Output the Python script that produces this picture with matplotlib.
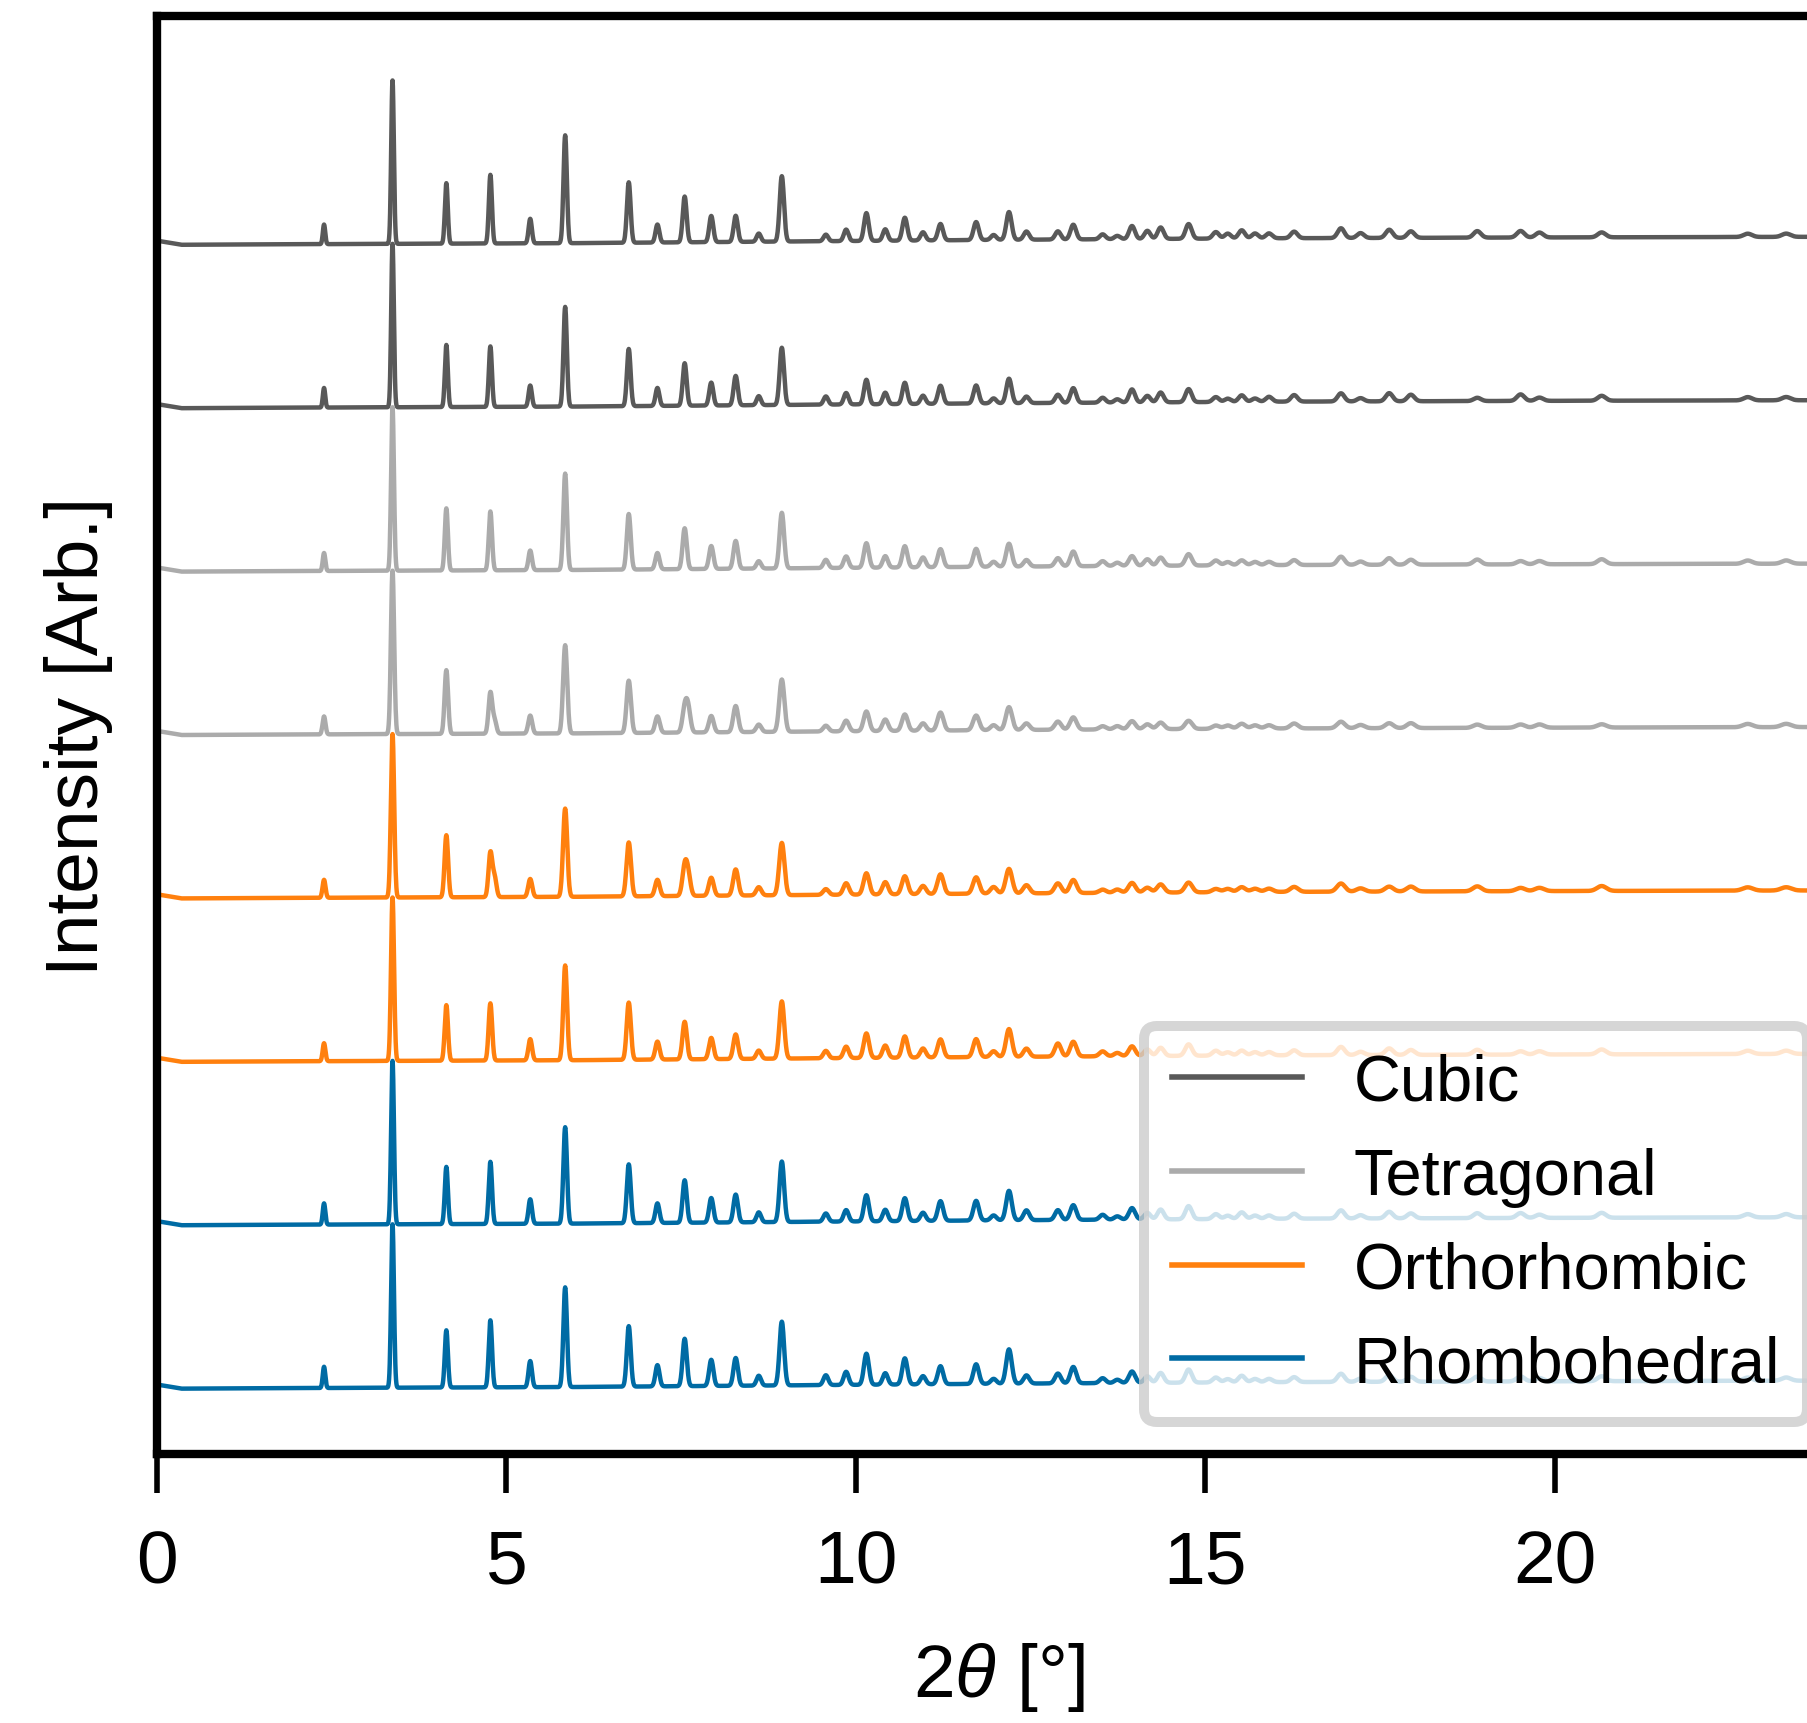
import numpy as np
import matplotlib
matplotlib.use("Agg")
import matplotlib.pyplot as plt

plt.rcParams['font.family'] = ['Liberation Sans', 'DejaVu Sans']
plt.rcParams['mathtext.fontset'] = 'custom'
plt.rcParams['mathtext.rm'] = 'Liberation Sans'
plt.rcParams['mathtext.it'] = 'Liberation Sans:italic'

# ---- data ----
labels = ["Cubic", "Cubic", "Tetragonal", "Tetragonal",
          "Orthorhombic", "Orthorhombic", "Rhombohedral", "Rhombohedral"]
colors = ["#595959", "#595959", "#ABABAB", "#ABABAB",
          "#FF800E", "#FF800E", "#006BA4", "#006BA4"]

# peak positions (2theta, degrees)
peak_pos = [2.39, 3.37, 4.14, 4.77, 4.83, 5.34, 5.84, 6.75, 7.16, 7.55, 7.60,
            7.93, 8.28, 8.61, 8.94, 9.57, 9.86, 10.15, 10.42, 10.70, 10.96,
            11.21, 11.72, 11.97, 12.19, 12.44, 12.89, 13.11,
            13.53, 13.74, 13.95, 14.17, 14.36, 14.76, 15.15, 15.32, 15.52,
            15.71, 15.91, 16.27, 16.94, 17.22, 17.63, 17.94, 18.89, 19.51,
            19.78, 20.67, 22.76, 23.31]

# relative peak heights, one list per trace (top trace first)
h_cubic_a = [0.12, 1.00, 0.37, 0.42, 0.00, 0.15, 0.66, 0.37, 0.11, 0.28, 0.00,
             0.16, 0.16, 0.05, 0.40, 0.04, 0.07, 0.17, 0.07, 0.14, 0.05,
             0.10, 0.11, 0.03, 0.17, 0.05, 0.05, 0.09,
             0.03, 0.02, 0.08, 0.05, 0.07, 0.09, 0.04, 0.03, 0.05,
             0.03, 0.03, 0.04, 0.06, 0.03, 0.05, 0.04, 0.04, 0.04,
             0.03, 0.03, 0.02, 0.02]
h_cubic_b = [0.12, 1.00, 0.38, 0.37, 0.00, 0.13, 0.61, 0.35, 0.11, 0.26, 0.00,
             0.14, 0.18, 0.055, 0.35, 0.05, 0.07, 0.15, 0.07, 0.13, 0.05,
             0.11, 0.11, 0.03, 0.15, 0.04, 0.05, 0.09,
             0.03, 0.02, 0.08, 0.04, 0.06, 0.08, 0.03, 0.02, 0.04,
             0.02, 0.03, 0.04, 0.05, 0.02, 0.05, 0.04, 0.02, 0.04,
             0.02, 0.03, 0.02, 0.02]
h_tetra_a = [0.11, 1.00, 0.38, 0.36, 0.00, 0.12, 0.59, 0.34, 0.10, 0.25, 0.00,
             0.14, 0.17, 0.045, 0.34, 0.05, 0.07, 0.15, 0.07, 0.13, 0.06,
             0.11, 0.11, 0.03, 0.14, 0.04, 0.05, 0.09,
             0.03, 0.02, 0.06, 0.04, 0.05, 0.07, 0.03, 0.02, 0.03,
             0.02, 0.02, 0.03, 0.05, 0.02, 0.04, 0.03, 0.03, 0.02,
             0.02, 0.03, 0.02, 0.02]
h_tetra_b = [0.11, 1.00, 0.39, 0.25, 0.08, 0.11, 0.54, 0.32, 0.10, 0.14, 0.14,
             0.10, 0.16, 0.045, 0.32, 0.035, 0.065, 0.12, 0.07, 0.10, 0.045,
             0.11, 0.09, 0.03, 0.14, 0.04, 0.05, 0.075,
             0.02, 0.02, 0.05, 0.03, 0.04, 0.05, 0.02, 0.02, 0.03,
             0.02, 0.02, 0.03, 0.04, 0.02, 0.03, 0.03, 0.02, 0.02,
             0.02, 0.02, 0.02, 0.02]
h_ortho_a = [0.11, 1.00, 0.38, 0.27, 0.12, 0.11, 0.54, 0.33, 0.10, 0.17, 0.12,
             0.11, 0.16, 0.05, 0.32, 0.035, 0.07, 0.13, 0.075, 0.11, 0.05,
             0.12, 0.10, 0.04, 0.15, 0.05, 0.06, 0.08,
             0.02, 0.02, 0.06, 0.03, 0.05, 0.06, 0.02, 0.02, 0.03,
             0.02, 0.02, 0.03, 0.05, 0.02, 0.03, 0.03, 0.03, 0.02,
             0.02, 0.03, 0.02, 0.02]
h_ortho_b = [0.11, 1.00, 0.34, 0.35, 0.00, 0.13, 0.58, 0.35, 0.11, 0.23, 0.00,
             0.13, 0.15, 0.05, 0.35, 0.045, 0.07, 0.15, 0.075, 0.13, 0.055,
             0.11, 0.11, 0.035, 0.17, 0.05, 0.08, 0.09,
             0.03, 0.02, 0.06, 0.04, 0.05, 0.07, 0.03, 0.02, 0.03,
             0.02, 0.02, 0.03, 0.05, 0.02, 0.04, 0.03, 0.03, 0.02,
             0.02, 0.03, 0.02, 0.02]
h_rhombo_a = [0.13, 1.00, 0.35, 0.38, 0.00, 0.15, 0.59, 0.36, 0.12, 0.26, 0.00,
              0.15, 0.17, 0.06, 0.37, 0.05, 0.07, 0.16, 0.07, 0.14, 0.05,
              0.12, 0.12, 0.03, 0.18, 0.06, 0.06, 0.09,
              0.03, 0.02, 0.07, 0.04, 0.06, 0.08, 0.03, 0.02, 0.04,
              0.02, 0.02, 0.03, 0.05, 0.02, 0.04, 0.03, 0.03, 0.03,
              0.02, 0.03, 0.02, 0.02]
h_rhombo_b = [0.13, 1.00, 0.35, 0.41, 0.00, 0.16, 0.61, 0.37, 0.13, 0.29, 0.00,
              0.16, 0.17, 0.06, 0.39, 0.06, 0.08, 0.19, 0.07, 0.16, 0.05,
              0.11, 0.12, 0.03, 0.21, 0.05, 0.06, 0.10,
              0.03, 0.02, 0.07, 0.04, 0.06, 0.08, 0.03, 0.02, 0.04,
              0.02, 0.02, 0.03, 0.05, 0.02, 0.04, 0.03, 0.03, 0.03,
              0.02, 0.03, 0.02, 0.02]
heights = [h_cubic_a, h_cubic_b, h_tetra_a, h_tetra_b,
           h_ortho_a, h_ortho_b, h_rhombo_a, h_rhombo_b]

# baseline (background)
bg_x = [0.0, 0.35, 3.0, 6.0, 9.0, 12.0, 16.0, 20.0, 25.0]
bg_y = [0.025, 0.0, 0.005, 0.01, 0.02, 0.03, 0.04, 0.045, 0.05]

# peak width (sigma) at 0 deg and its growth per degree, per trace
width0 = [0.012, 0.012, 0.013, 0.015, 0.015, 0.014, 0.013, 0.013]
width1 = [0.0021, 0.0021, 0.0022, 0.0024, 0.0025, 0.0023, 0.0022, 0.0022]
offsets = [7, 6, 5, 4, 3, 2, 1, 0]

# ---- build profiles ----
x = np.arange(0.0, 25.0, 0.005)
bg = np.interp(x, bg_x, bg_y)

fig = plt.figure(figsize=(9.04, 8.62), dpi=200)
ax = fig.add_axes([157 / 1808, 269 / 1724, 1683 / 1808, 1438 / 1724])

seen = set()
for i in range(8):
    y = bg.copy()
    for p, h in zip(peak_pos, heights[i]):
        if h <= 0:
            continue
        s = width0[i] + width1[i] * p
        y += h * np.exp(-0.5 * ((x - p) / s) ** 2)
    lab = labels[i] if labels[i] not in seen else None
    seen.add(labels[i])
    ax.plot(x, y + offsets[i], color=colors[i], lw=1.6, label=lab)

ax.set_xlim(0, 24.08)
ax.set_ylim(-0.4, 8.4)
ax.set_xticks([0, 5, 10, 15, 20])
ax.set_yticks([])
for sp in ax.spines.values():
    sp.set_linewidth(3.0)
ax.tick_params(axis='x', direction='out', length=14, width=2.0, pad=13,
               labelsize=27)
ax.set_xlabel(r'2$\theta$ [°]', fontsize=27, labelpad=15)
ax.set_ylabel('Intensity [Arb.]', fontsize=27, labelpad=16)

leg = ax.legend(loc='lower right', fontsize=23.4, handlelength=2.0,
                labelspacing=0.52, borderpad=0.42, frameon=True)
leg.get_frame().set_linewidth(3.6)
for ln in leg.get_lines():
    ln.set_linewidth(2.0)

fig.savefig("out.png", dpi=200)
